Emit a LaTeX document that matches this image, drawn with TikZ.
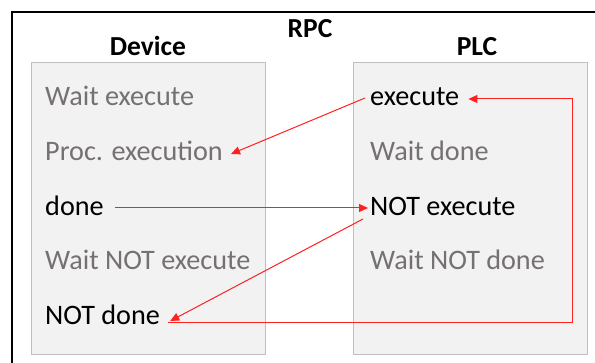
\documentclass[tikz,border=0pt]{standalone}
\usepackage{fontspec}
\setmainfont{Carlito}
\usetikzlibrary{arrows.meta}
\definecolor{boxfill}{HTML}{F2F2F2}
\definecolor{boxline}{HTML}{BFBFBF}
\definecolor{graytext}{HTML}{767171}
\definecolor{arrowred}{HTML}{FF2020}
\tikzset{
  panel/.style={draw=boxline, fill=boxfill, line width=1pt},
  state/.style={anchor=base west, inner sep=0pt, font=\fontsize{28.2}{30}\selectfont},
  waitstate/.style={state, text=graytext},
  actstate/.style={state, text=black},
  title/.style={anchor=base, inner sep=0pt, font=\fontsize{27.5}{30}\selectfont\bfseries},
  flow/.style={draw=arrowred, line width=1pt, -{Triangle[length=9pt,width=8pt]}}
}
\begin{document}
\begin{tikzpicture}[x=1pt,y=-1pt]
\useasboundingbox (0,0) rectangle (595,363);
\draw[line width=2pt] (12,363) -- (12,12) -- (600,12);
\draw[panel] (31,63) rectangle (265,355);
\draw[panel] (353,63) rectangle (587,355);
\node[title] (rpc) at (310,38) {RPC};
\node[title] (dev) at (148,56) {Device};
\node[title] (plc) at (477,56) {PLC};
\node[waitstate] (we) at (45,106) {Wait execute};
\node[waitstate] (pe) at (45,161) {Proc. execution};
\node[actstate] (dn) at (45,216) {done};
\node[waitstate] (wne) at (45,270) {Wait NOT execute};
\node[actstate] (nd) at (45,325) {NOT done};
\node[actstate] (ex) at (370,106) {execute};
\node[waitstate] (wd) at (370,161) {Wait done};
\node[actstate] (ne) at (370,216) {NOT execute};
\node[waitstate] (wnd) at (370,270) {Wait NOT done};
\coordinate (c1) at (572,323);
\coordinate (c2) at (572,99);
\draw[flow] ([xshift=-5pt,yshift=8pt]ex.base west) -- ([xshift=8pt,yshift=7pt]pe.base east);
\draw[flow] ([xshift=11pt,yshift=8pt]dn.base east) -- ([xshift=-2pt,yshift=8pt]ne.base west);
\draw[flow] ([xshift=-7pt,yshift=-3pt]ne.base west) -- ([xshift=10pt,yshift=4pt]nd.base east);
\draw[flow] ([xshift=8pt,yshift=2pt]nd.base east) -- (c1) -- (c2) -- ([xshift=9pt]ex.east |- c2);
\end{tikzpicture}
\end{document}
